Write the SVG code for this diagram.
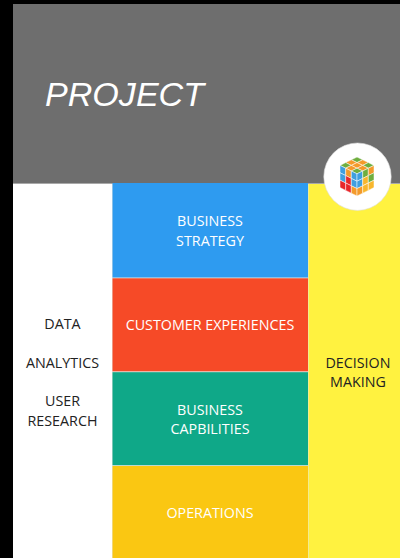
<svg xmlns="http://www.w3.org/2000/svg" width="400" height="558" viewBox="0 0 400 558">
<style>
.t{font-family:"Open Sans","Noto Sans",sans-serif;font-size:14.3px;text-anchor:middle}
.w{fill:#fff}
.d{fill:#222}
.b{fill:#3f9fe0}.g{fill:#6fae3f}.o{fill:#f39a2b}.r{fill:#e8262a}.y{fill:#f8b62d}
#logo polygon{stroke:#fff;stroke-width:.5}
</style>
<rect width="400" height="558" fill="#000"/>
<g id="header"><rect x="13" y="4" width="387" height="179" fill="#6e6e6e"/>
<rect x="13" y="183" width="387" height="1" fill="#a8a8a8"/>
<text x="45" y="106" font-family="Liberation Sans,Arial,sans-serif" font-style="italic" font-size="34.100" fill="#fff">PROJECT</text></g>
<g id="left-column"><rect x="13" y="184" width="99" height="374" fill="#fff"/>
<text class="t d" x="62.500" y="329">DATA</text>
<text class="t d" x="62.500" y="367.500">ANALYTICS</text>
<text class="t d" x="62.500" y="406">USER</text>
<text class="t d" x="62.500" y="426">RESEARCH</text></g>
<g id="right-column"><rect x="308" y="184" width="92" height="374" fill="#fff240"/>
<text class="t d" x="358" y="367.500">DECISION</text>
<text class="t d" x="358" y="387">MAKING</text></g>
<rect x="112" y="184" width="196.500" height="374" fill="#e6e6e0"/>
<g id="business-strategy"><rect x="112.500" y="183" width="195.500" height="94.500" fill="#2e9bf0"/>
<text class="t w" x="210" y="226">BUSINESS</text><text class="t w" x="210" y="246">STRATEGY</text></g>
<g id="customer-experiences"><rect x="112.500" y="278.300" width="195.500" height="93" fill="#f64a27"/>
<text class="t w" x="210" y="330">CUSTOMER EXPERIENCES</text></g>
<g id="business-capabilities"><rect x="112.500" y="372.200" width="195.500" height="93" fill="#0fa888"/>
<text class="t w" x="210" y="414.500">BUSINESS</text><text class="t w" x="210" y="434">CAPBILITIES</text></g>
<g id="operations"><rect x="112.500" y="466" width="195.500" height="92" fill="#fac712"/>
<text class="t w" x="210" y="518">OPERATIONS</text></g>
<g id="logo"><circle cx="357.500" cy="176.700" r="33.700" fill="#fff" stroke="#ddd" stroke-width=".6"/>
<polygon class="g" points="357,157 362.700,159.800 357,162.600 351.300,159.800"/>
<polygon class="o" points="362.700,159.800 368.300,162.600 362.700,165.400 357,162.600"/>
<polygon class="g" points="368.300,162.600 374,165.400 368.300,168.200 362.700,165.400"/>
<polygon class="o" points="351.300,159.800 357,162.600 351.300,165.400 345.700,162.600"/>
<polygon class="o" points="357,162.600 362.700,165.400 357,168.200 351.300,165.400"/>
<polygon class="o" points="362.700,165.400 368.300,168.200 362.700,171 357,168.200"/>
<polygon class="g" points="345.700,162.600 351.300,165.400 345.700,168.200 340,165.400"/>
<polygon class="o" points="351.300,165.400 357,168.200 351.300,171 345.700,168.200"/>
<polygon class="g" points="357,168.200 362.700,171 357,173.800 351.300,171"/>
<polygon class="b" points="340,165.400 345.700,168.200 345.700,175.600 340,172.800"/>
<polygon class="o" points="345.700,168.200 351.300,171 351.300,178.400 345.700,175.600"/>
<polygon class="b" points="351.300,171 357,173.800 357,181.200 351.300,178.400"/>
<polygon class="b" points="340,172.800 345.700,175.600 345.700,183 340,180.200"/>
<polygon class="r" points="345.700,175.600 351.300,178.400 351.300,185.800 345.700,183"/>
<polygon class="b" points="351.300,178.400 357,181.200 357,188.600 351.300,185.800"/>
<polygon class="r" points="340,180.200 345.700,183 345.700,190.400 340,187.600"/>
<polygon class="r" points="345.700,183 351.300,185.800 351.300,193.200 345.700,190.400"/>
<polygon class="o" points="351.300,185.800 357,188.600 357,196 351.300,193.200"/>
<polygon class="b" points="357,173.800 362.700,171 362.700,178.400 357,181.200"/>
<polygon class="g" points="362.700,171 368.300,168.200 368.300,175.600 362.700,178.400"/>
<polygon class="o" points="368.300,168.200 374,165.400 374,172.800 368.300,175.600"/>
<polygon class="b" points="357,181.200 362.700,178.400 362.700,185.800 357,188.600"/>
<polygon class="y" points="362.700,178.400 368.300,175.600 368.300,183 362.700,185.800"/>
<polygon class="g" points="368.300,175.600 374,172.800 374,180.200 368.300,183"/>
<polygon class="o" points="357,188.600 362.700,185.800 362.700,193.200 357,196"/>
<polygon class="y" points="362.700,185.800 368.300,183 368.300,190.400 362.700,193.200"/>
<polygon class="y" points="368.300,183 374,180.200 374,187.600 368.300,190.400"/></g>
</svg>
